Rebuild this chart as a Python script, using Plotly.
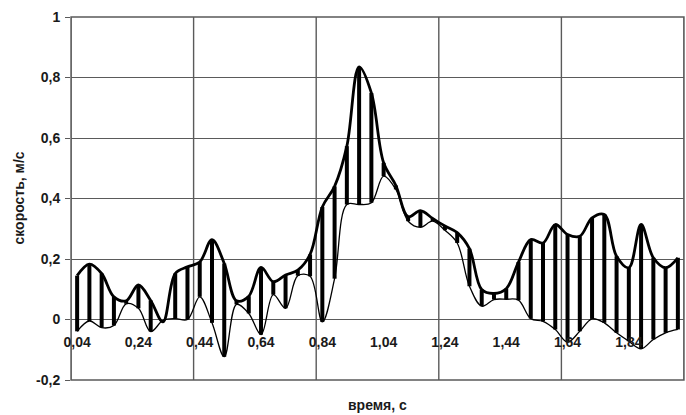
import plotly.graph_objects as go

# time categories, s
time_s = [0.04, 0.08, 0.12, 0.16, 0.20, 0.24, 0.28, 0.32, 0.36, 0.40,
          0.44, 0.48, 0.52, 0.56, 0.60, 0.64, 0.68, 0.72, 0.76, 0.80,
          0.84, 0.88, 0.92, 0.96, 1.00, 1.04, 1.08, 1.12, 1.16, 1.20,
          1.24, 1.28, 1.32, 1.36, 1.40, 1.44, 1.48, 1.52, 1.56, 1.60,
          1.64, 1.68, 1.72, 1.76, 1.80, 1.84, 1.88, 1.92, 1.96, 2.00]

# upper (thick) series, m/s
upper = [0.145, 0.183, 0.152, 0.075, 0.062, 0.114, 0.063, -0.008, 0.152, 0.174,
         0.190, 0.264, 0.185, 0.062, 0.077, 0.172, 0.125, 0.147, 0.163, 0.215,
         0.372, 0.440, 0.573, 0.835, 0.749, 0.518, 0.443, 0.340, 0.360, 0.334,
         0.309, 0.287, 0.234, 0.099, 0.086, 0.102, 0.190, 0.264, 0.253, 0.314,
         0.281, 0.275, 0.336, 0.347, 0.209, 0.171, 0.314, 0.204, 0.171, 0.204]

# lower (thin) series, m/s
lower = [-0.039, -0.005, -0.027, -0.020, 0.052, 0.037, -0.040, -0.003, 0.003, 0.000,
         0.075, -0.011, -0.123, 0.050, 0.020, -0.050, 0.082, 0.037, 0.145, 0.143,
         -0.008, 0.135, 0.380, 0.380, 0.386, 0.474, 0.430, 0.325, 0.305, 0.325,
         0.295, 0.253, 0.110, 0.044, 0.066, 0.067, 0.064, 0.003, -0.006, -0.033,
         -0.075, -0.039, 0.002, -0.011, -0.044, -0.072, -0.097, -0.066, -0.044, -0.033]

x_ticks = [0.04, 0.24, 0.44, 0.64, 0.84, 1.04, 1.24, 1.44, 1.64, 1.84]
x_tick_text = ["0,04", "0,24", "0,44", "0,64", "0,84", "1,04", "1,24", "1,44", "1,64", "1,84"]
x_grid = [0.02, 0.42, 0.82, 1.22, 1.62, 2.02]
y_ticks = [-0.2, 0, 0.2, 0.4, 0.6, 0.8, 1.0]
y_tick_text = ["-0,2", "0", "0,2", "0,4", "0,6", "0,8", "1"]

x_range = [0.02, 2.02]
y_range = [-0.2, 1.0]

FONT = "Liberation Sans, Arial, sans-serif"
GRID = "#5a5a5a"
TXT = "#1a1a1a"
TF = dict(size=14, family=FONT, color=TXT, weight="bold")

# high-low lines built from the two series
hl_x, hl_y = [], []
for t, a, b in zip(time_s, upper, lower):
    hl_x += [t, t, None]
    hl_y += [a, b, None]

fig = go.Figure()
fig.add_trace(go.Scatter(x=hl_x, y=hl_y, mode="lines",
                         line=dict(color="black", width=4),
                         hoverinfo="skip", showlegend=False))
fig.add_trace(go.Scatter(x=time_s, y=lower, mode="lines",
                         line=dict(color="black", width=1.3, shape="spline", smoothing=1),
                         showlegend=False))
fig.add_trace(go.Scatter(x=time_s, y=upper, mode="lines",
                         line=dict(color="black", width=2.8, shape="spline", smoothing=1),
                         showlegend=False))

shapes = []
for g in x_grid:
    shapes.append(dict(type="line", xref="x", yref="paper", x0=g, x1=g, y0=0, y1=1,
                       line=dict(color=GRID, width=1.4), layer="below"))
shapes.append(dict(type="rect", xref="paper", yref="paper", x0=0, x1=1, y0=0, y1=1,
                   line=dict(color=GRID, width=1.4), layer="below"))

zero_pos = (0 - y_range[0]) / (y_range[1] - y_range[0])

fig.update_layout(
    width=686, height=415,
    margin=dict(l=71, r=2, t=17, b=35),
    paper_bgcolor="white", plot_bgcolor="white",
    font=TF,
    shapes=shapes,
    xaxis=dict(range=x_range, tickvals=x_ticks, ticktext=x_tick_text,
               showgrid=False, zeroline=False, showline=False,
               anchor="free", position=zero_pos,
               ticks="", ticklabelstandoff=12, tickfont=TF),
    yaxis=dict(range=y_range, tickvals=y_ticks, ticktext=y_tick_text,
               showgrid=True, gridcolor=GRID, gridwidth=1.4,
               zeroline=False, showline=False,
               ticks="outside", ticklen=5, tickcolor=GRID, tickwidth=1.4,
               ticklabelstandoff=2, tickfont=TF),
    annotations=[
        dict(text="время, с", xref="paper", yref="paper",
             x=(377 - 71) / 613, y=(380 - 405) / 363,
             xanchor="center", yanchor="middle", showarrow=False, font=TF),
        dict(text="скорость, м/с", xref="paper", yref="paper",
             x=(18 - 71) / 613, y=0.5, textangle=-90,
             xanchor="center", yanchor="middle", showarrow=False, font=TF),
    ],
)

fig.write_html("out.html", config={"displayModeBar": False},
               post_script="document.body.style.margin='0';document.body.style.overflow='hidden';")
